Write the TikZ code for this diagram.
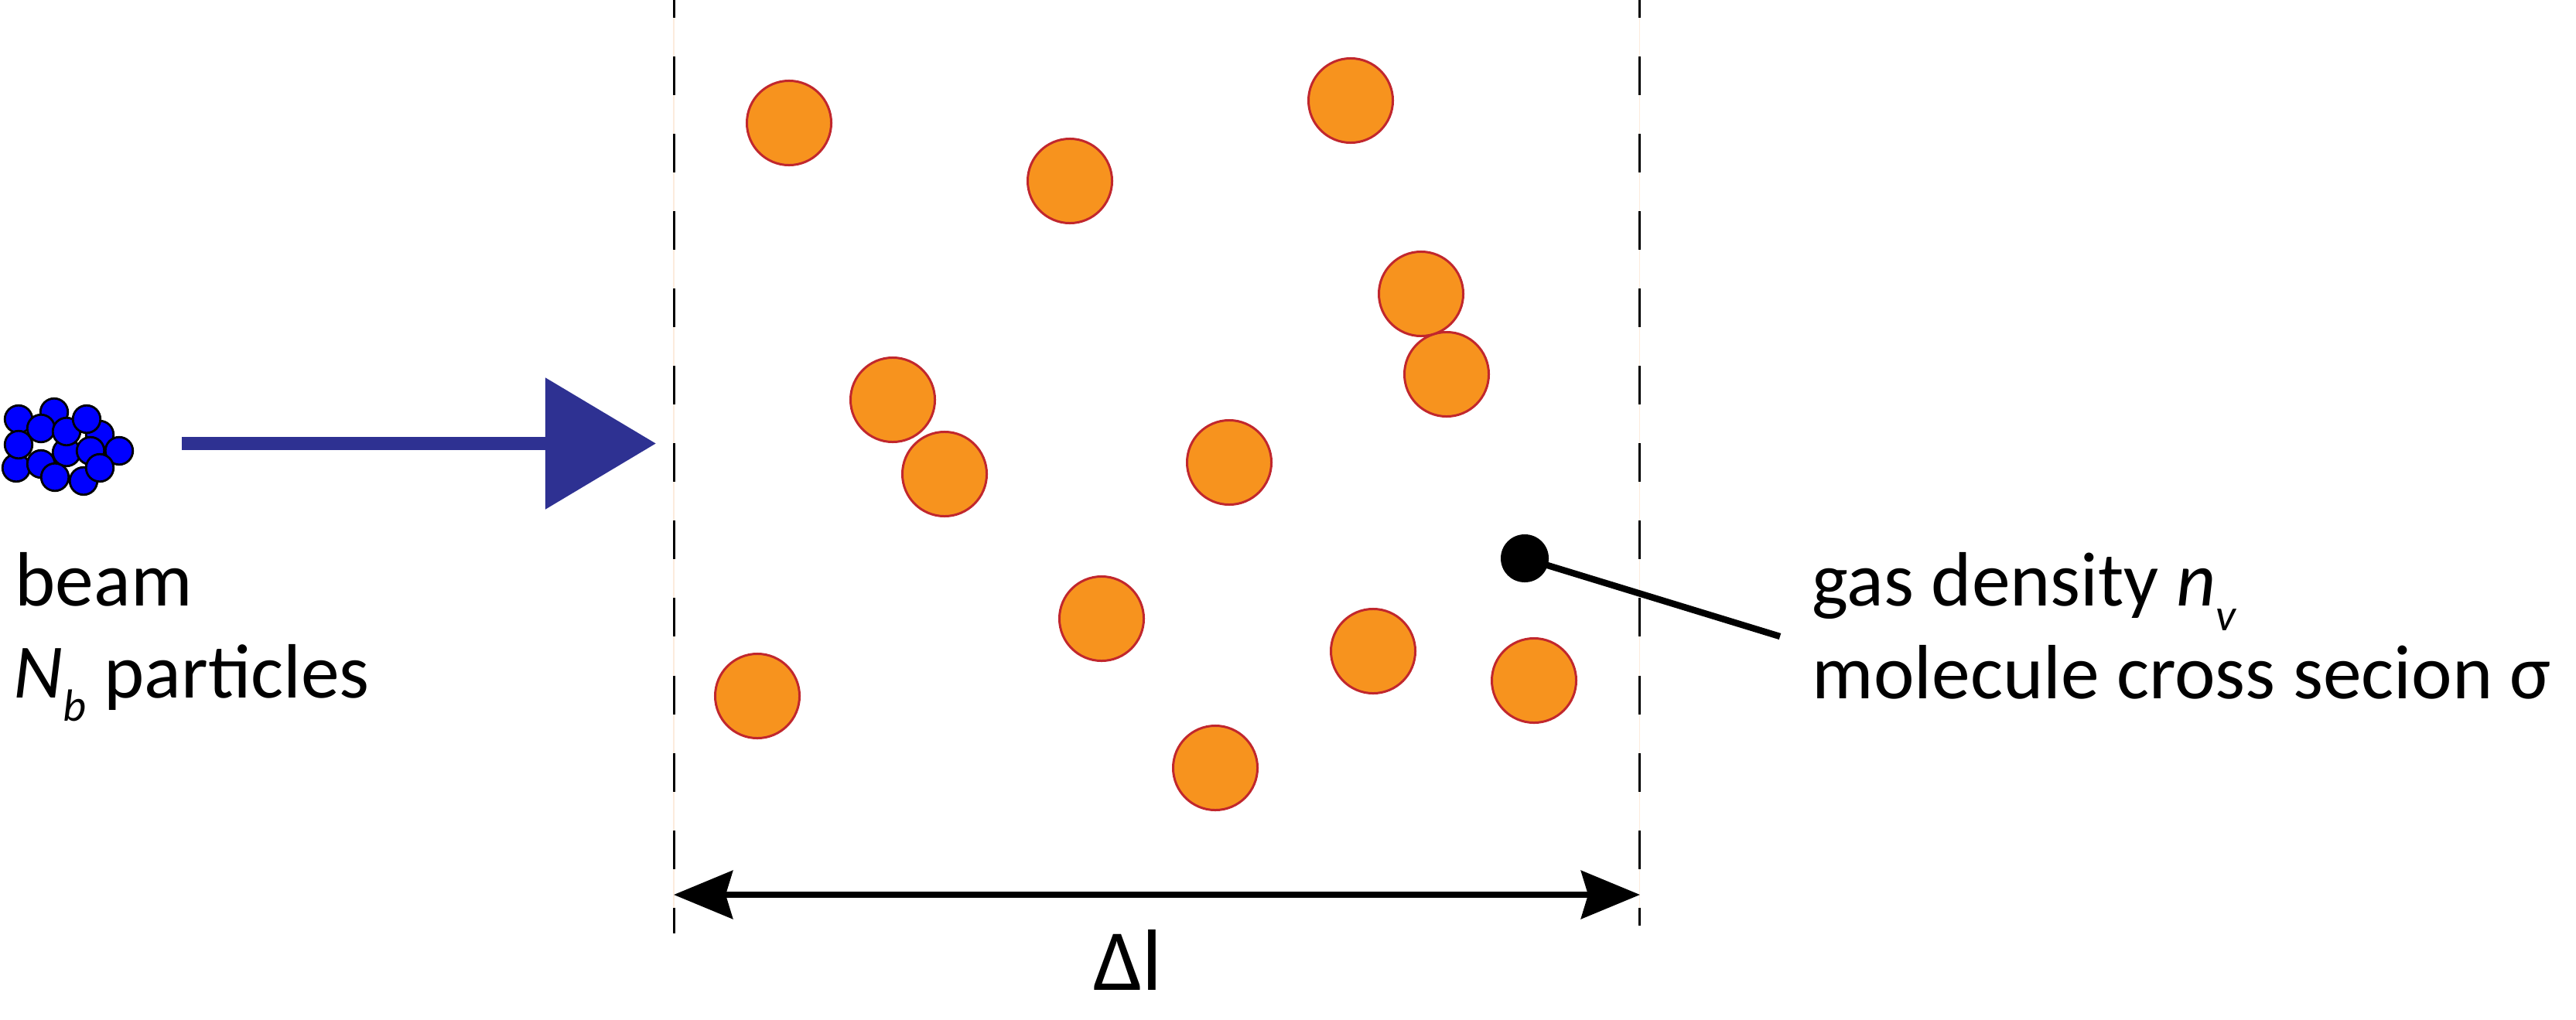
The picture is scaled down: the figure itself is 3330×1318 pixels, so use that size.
\documentclass[tikz,border=0pt]{standalone}
\usepackage{fontspec}
\setmainfont{Carlito}
\usetikzlibrary{arrows.meta}
\definecolor{gasfill}{HTML}{F7931E}
\definecolor{gasedge}{HTML}{C1272D}
\definecolor{beamblue}{HTML}{0000FF}
\definecolor{arrowblue}{HTML}{2E3192}
\definecolor{faint}{HTML}{FCEBDD}
\begin{document}
\begin{tikzpicture}[x=0.01cm,y=-0.01cm,
  gas/.style={circle,fill=gasfill,draw=gasedge,line width=0.85pt,minimum size=1.09cm,inner sep=0pt},
  ion/.style={circle,fill=beamblue,draw=black,line width=0.8pt,minimum size=0.355cm,inner sep=0pt},
  lbl/.style={anchor=base west,inner sep=0pt,font=\fontsize{28.3}{35}\selectfont},
  bound/.style={line width=0.85pt,dash pattern=on 0.5cm off 0.5cm,dash phase=0.27cm},
  faintline/.style={draw=faint,line width=0.3pt}]
\useasboundingbox (0,0) rectangle (3330,1318);
% boundaries of the gas region
\coordinate (Ltop) at (871,0);
\coordinate (Lbot) at (871,1207);
\coordinate (Rtop) at (2119,0);
\coordinate (Rbot) at (2119,1197);
\draw[faintline] (Ltop) -- (Lbot);
\draw[faintline] (Rtop) -- (Rbot);
\draw[bound] (Ltop) -- (Lbot);
\draw[bound] (Rtop) -- (Rbot);
% gas molecules
\node[gas] (g1) at (1020,159) {};
\node[gas] (g2) at (1383,234) {};
\node[gas] (g3) at (1746,130) {};
\node[gas] (g5) at (1870,484) {};
\node[gas] (g4) at (1837,380) {};
\node[gas] (g6) at (1154,517) {};
\node[gas] (g7) at (1221,613) {};
\node[gas] (g8) at (1589,598) {};
\node[gas] (g9) at (1424,800) {};
\node[gas] (g10) at (1775,842) {};
\node[gas] (g11) at (1983,880) {};
\node[gas] (g12) at (979,900) {};
\node[gas] (g13) at (1571,993) {};
% beam bunch
\node[ion] (b6) at (129,562) {};
\node[ion] (b1) at (24,542) {};
\node[ion] (b2) at (70,533) {};
\node[ion] (b11) at (21,605) {};
\node[ion] (b12) at (53,600) {};
\node[ion] (b8) at (86,585) {};
\node[ion] (b10) at (154,583) {};
\node[ion] (b14) at (108,622) {};
\node[ion] (b13) at (71,617) {};
\node[ion] (b4) at (53,554) {};
\node[ion] (b5) at (86,558) {};
\node[ion] (b3) at (112,542) {};
\node[ion] (b7) at (24,575) {};
\node[ion] (b9) at (117,583) {};
\node[ion] (b15) at (129,605) {};
% beam direction arrow
\coordinate (aS) at (235,573.5);
\coordinate (aE) at (848,573.5);
\draw[arrowblue,line width=4.84pt,-{Triangle[length=1.43cm,width=1.66cm]}] (aS) -- (aE);
% length arrow
\coordinate (dL) at (871,1157);
\coordinate (dR) at (2120,1157);
\draw[line width=2.28pt,{Stealth[length=0.76cm,width=0.62cm,inset=0.09cm]}-{Stealth[length=0.76cm,width=0.62cm,inset=0.09cm]}] (dL) -- (dR);
\node[anchor=base,inner sep=0pt,font=\fontsize{32}{32}\selectfont] (dl) at (1458,1280) {Δl};
% molecule with pointer
\coordinate (lblpt) at (2301,823);
\node[circle,fill=black,minimum size=0.62cm,inner sep=0pt] (mol) at (1971,722) {};
\draw[line width=2.4pt] (mol.center) -- (lblpt);
% labels
\node[lbl] (beam) at (19,783) {beam};
\node[lbl] (nb) at (17,902) {\textit{N}\raisebox{-8.8pt}{\fontsize{16.6}{16.6}\selectfont\textit{b}} particles};
\node[lbl] (gasd) at (2342,783) {gas density \textit{n}\raisebox{-9.3pt}{\fontsize{16.6}{16.6}\selectfont\textit{v}}};
\node[lbl] (cross) at (2342,903) {molecule cross secion σ};
\end{tikzpicture}
\end{document}
